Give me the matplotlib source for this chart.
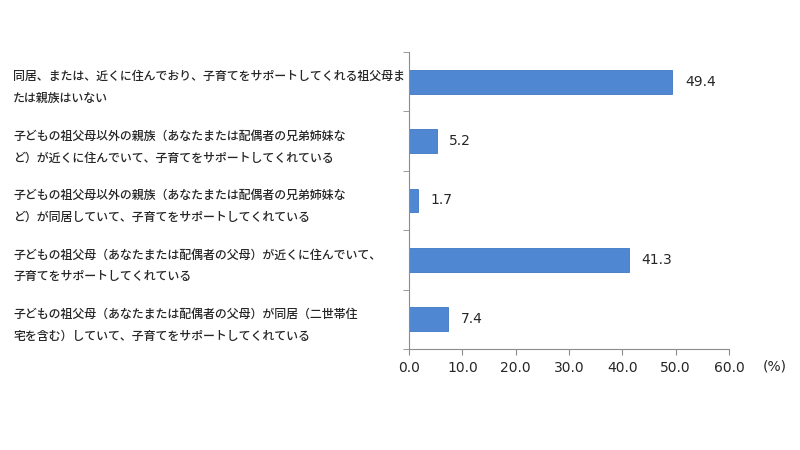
import matplotlib
matplotlib.use("Agg")
import matplotlib.pyplot as plt
import matplotlib.transforms as mtransforms

plt.rcParams['font.family'] = ['Noto Sans CJK JP', 'DejaVu Sans']

# カテゴリ（上から順）
labels = [
    "同居、または、近くに住んでおり、子育てをサポートしてくれる祖父母ま\nたは親族はいない",
    "子どもの祖父母以外の親族（あなたまたは配偶者の兄弟姉妹な\nど）が近くに住んでいて、子育てをサポートしてくれている",
    "子どもの祖父母以外の親族（あなたまたは配偶者の兄弟姉妹な\nど）が同居していて、子育てをサポートしてくれている",
    "子どもの祖父母（あなたまたは配偶者の父母）が近くに住んでいて、\n子育てをサポートしてくれている",
    "子どもの祖父母（あなたまたは配偶者の父母）が同居（二世帯住\n宅を含む）していて、子育てをサポートしてくれている",
]
values = [49.4, 5.2, 1.7, 41.3, 7.4]
xticks = [0, 10, 20, 30, 40, 50, 60]

BAR_COLOR = "#4F87D3"
AXIS_COLOR = "#8C8C8C"
TEXT_COLOR = "#262626"

fig = plt.figure(figsize=(8, 4.5), dpi=100)
ax = fig.add_axes([409 / 800, 1 - 349 / 450, 320 / 800, 297 / 450])

pos = list(range(len(values)))
ax.barh(pos, values, height=0.4, color=BAR_COLOR, edgecolor="#3F77C3", linewidth=0.6)

ax.set_xlim(0, 60)
ax.set_ylim(len(values) - 0.5, -0.5)

# 数値ラベル
for y, v in zip(pos, values):
    ax.annotate(f"{v:.1f}", (v, y), xytext=(9, 0), textcoords="offset points",
                va="center", ha="left", fontsize=10, color=TEXT_COLOR,
                family="DejaVu Sans")

# 軸
for s in ["top", "right"]:
    ax.spines[s].set_visible(False)
ax.spines["left"].set_color(AXIS_COLOR)
ax.spines["bottom"].set_color(AXIS_COLOR)

ax.set_xticks(xticks)
ax.set_xticklabels([f"{t:.1f}" for t in xticks], family="DejaVu Sans",
                   fontsize=10, color=TEXT_COLOR)
ax.tick_params(axis="x", direction="out", length=4, color=AXIS_COLOR, pad=5)

ax.set_yticks([])
ax.set_yticks([i - 0.5 for i in range(len(values) + 1)], minor=True)
ax.tick_params(axis="y", which="minor", direction="out", length=4, color=AXIS_COLOR)

# 左側のカテゴリラベル
trans = mtransforms.blended_transform_factory(fig.transFigure, ax.transData)
for y, lab in zip(pos, labels):
    ax.text(13 / 800, y + 0.1, lab, transform=trans, ha="left", va="center",
            fontsize=8.6, fontweight="medium", color=TEXT_COLOR, linespacing=1.9)

fig.text(763 / 800, 1 - 367 / 450, "(%)", ha="left", va="center", fontsize=10,
         color=TEXT_COLOR, family="DejaVu Sans")

fig.savefig("out.png", dpi=100, facecolor="white")
